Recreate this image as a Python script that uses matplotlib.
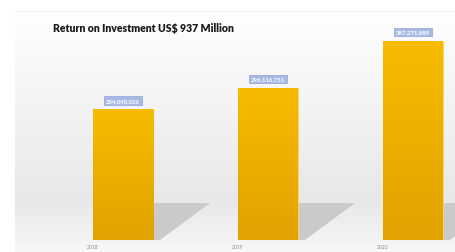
import matplotlib
matplotlib.use("Agg")
import matplotlib.pyplot as plt
import numpy as np
from matplotlib.patches import Polygon
from matplotlib.colors import LinearSegmentedColormap

years = ["2018", "2019", "2020"]
values = [254090026, 296116751, 387271889]
value_labels = ["254,090,026", "296,116,751", "387,271,889"]
title = "Return on Investment US$ 937 Million"

W, H = 456, 253
fig = plt.figure(figsize=(W / 100, H / 100), dpi=100)
fig.patch.set_facecolor("white")

# background gradient panel
bg = fig.add_axes([15 / W, 0, 1 - 15 / W, 1 - 12 / H], zorder=0)
grad = np.concatenate([np.linspace(1.0, 0.91, 190), np.linspace(0.91, 0.97, 51)])
bg.imshow(np.dstack([grad, grad, grad + 0.005]).reshape(-1, 1, 3).clip(0, 1),
          aspect="auto", extent=[0, 1, 0, 1])
bg.set_axis_off()
fig.add_artist(plt.Line2D([15 / W, 1], [1 - 12 / H, 1 - 12 / H], color="#f2f2f2", lw=0.8))

ax = fig.add_axes([15 / W, 12 / H, 1 - 15 / W, (241 - 12) / H], zorder=1)
ax.patch.set_alpha(0)
px_per_unit = 145.0
ax.set_xlim(-(93 - 15) / px_per_unit, (456 - 93) / px_per_unit)
ymax = values[2] * (241 - 12) / (241 - 42)
ax.set_ylim(0, ymax)
ax.set_axis_off()

x = np.arange(len(values))
bw = 60 / px_per_unit
bars = ax.bar(x, values, width=bw, align="edge", color="#f0b000",
              edgecolor="#ffd95a", linewidth=0.6, zorder=3)

cmap = LinearSegmentedColormap.from_list("gold", ["#e2a200", "#f7bb00"])
for b in bars:
    x0, y0, w, h = b.get_x(), b.get_y(), b.get_width(), b.get_height()
    im = ax.imshow(np.linspace(0, 1, 100).reshape(-1, 1), cmap=cmap, origin="lower",
                   extent=[x0, x0 + w, y0, y0 + h], aspect="auto", zorder=3.5)
    im.set_clip_path(b)
    # shadow
    sh_h = ymax * 37 / 229
    sx = x0 + w
    poly = Polygon([(sx, sh_h), (sx + 57 / px_per_unit, sh_h), (sx + 7 / px_per_unit, 0), (sx, 0)],
                   closed=True, facecolor="#cacaca", edgecolor="none", zorder=2)
    ax.add_patch(poly)

ax.set_xlim(-(93 - 15) / px_per_unit, (456 - 93) / px_per_unit)
ax.set_ylim(0, ymax)

pad = ymax * 9 / 229
for xi, v, lab in zip(x, values, value_labels):
    ax.text(xi + bw / 2, v + pad, lab, ha="center", va="center", fontsize=4.3,
            fontweight="bold", color="#ffffff", family="Lato", zorder=5,
            bbox=dict(boxstyle="square,pad=0.3", facecolor="#a7b9e4",
                      edgecolor="#8ea3d8", linewidth=0.5))

for xi, yr in zip(x, years):
    ax.text(xi, -ymax * 7 / 229, yr, ha="center", va="center", fontsize=3.6,
            color="#8a8a8a", family="Lato", clip_on=False)

fig.text(53 / W, 1 - 28 / H, title, ha="left", va="center", fontsize=7.6,
         fontweight="heavy", color="#1a1a1a", family="Lato")

fig.savefig("out.png", dpi=100, facecolor="white")
